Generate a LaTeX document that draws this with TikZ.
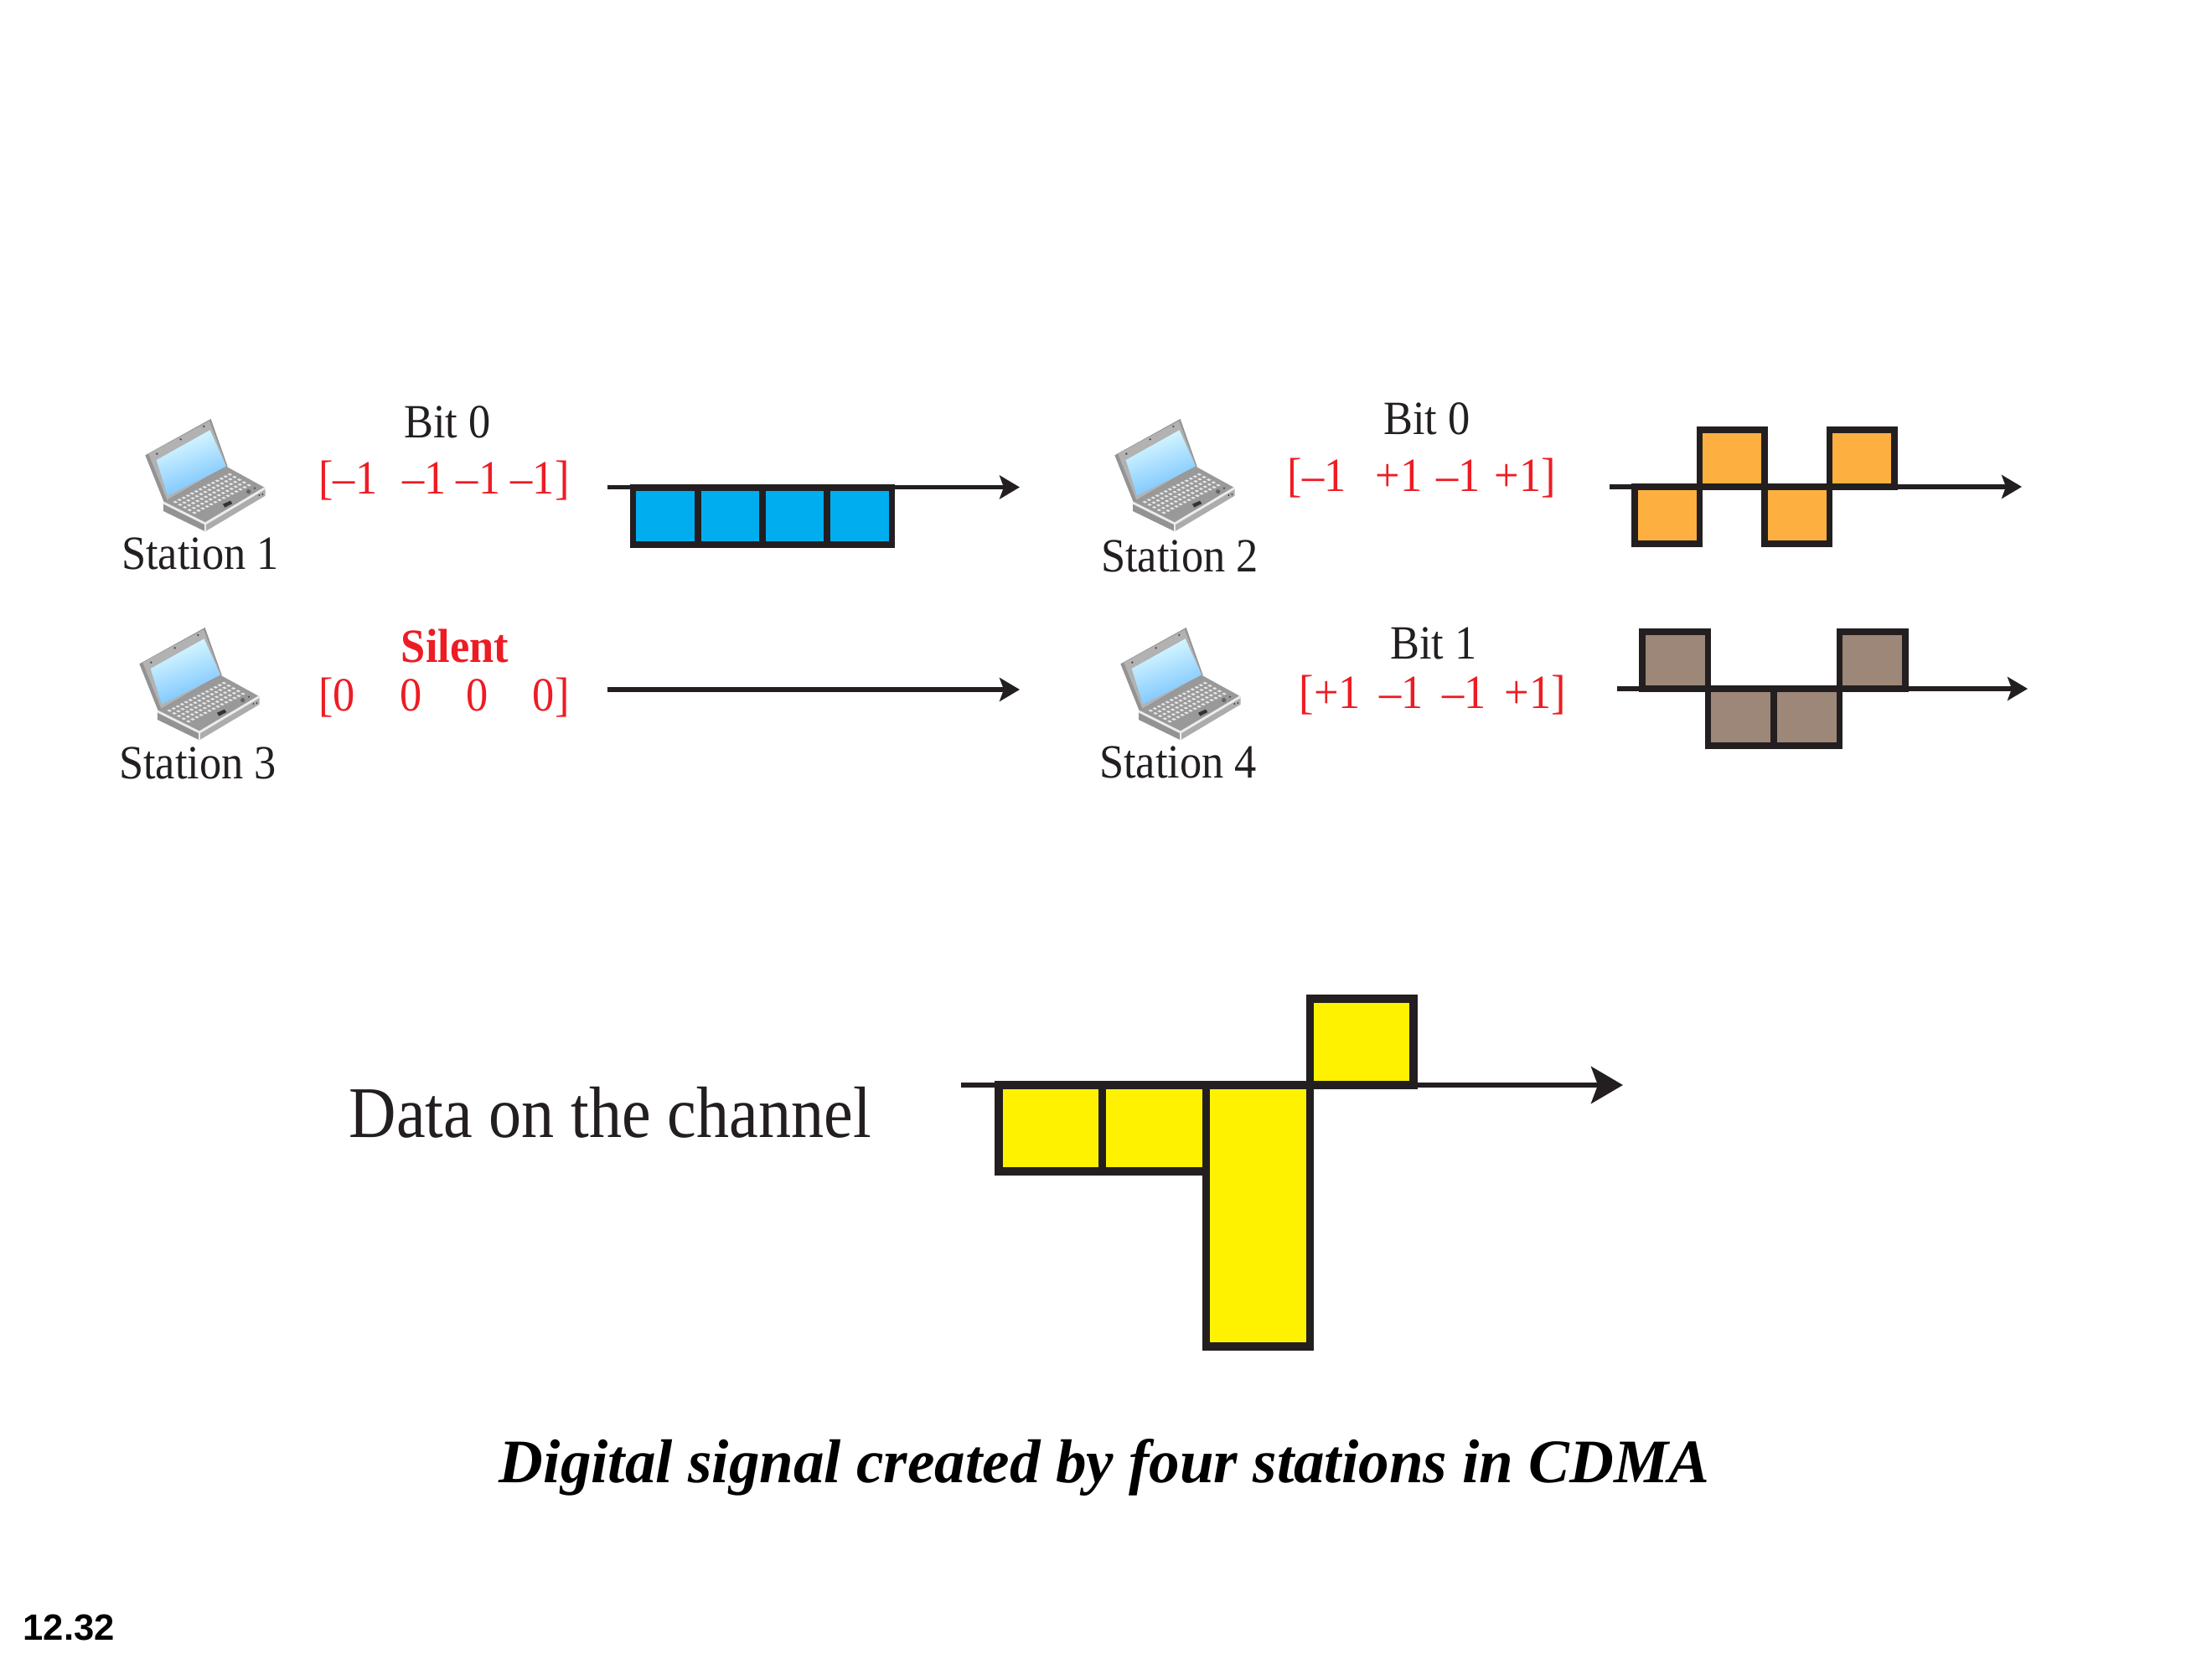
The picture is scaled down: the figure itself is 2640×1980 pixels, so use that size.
\documentclass[tikz,border=0pt]{standalone}
\usepackage{fontspec}
\setmainfont{Liberation Serif}
\newfontfamily\labelfont[FakeStretch=0.92]{Liberation Serif}
\newfontfamily\datafont[FakeStretch=0.90]{Liberation Serif}
\newfontfamily\captionfont[FakeStretch=0.99]{Liberation Serif}
\newfontfamily\pagefont{Liberation Sans}
\usetikzlibrary{arrows.meta}

\definecolor{inkblack}{RGB}{35,31,32}
\definecolor{codered}{RGB}{237,28,36}
\definecolor{cellblue}{RGB}{0,174,239}
\definecolor{cellorange}{RGB}{253,176,64}
\definecolor{cellbrown}{RGB}{157,135,120}
\definecolor{cellyellow}{RGB}{255,242,0}

\newcommand{\codeword}[5]{\makebox[#1][s]{#2\hfill #3\hfill #4\hfill #5}}

\tikzset{
  stationlabel/.style={anchor=base, inner sep=0pt, text=inkblack, font=\labelfont\fontsize{16.2}{18}\selectfont},
  bitlabel/.style={stationlabel},
  codelabel/.style={anchor=base, inner sep=0pt, text=codered, font=\labelfont\fontsize{16.2}{18}\selectfont},
  signalaxis/.style={draw=inkblack, line width=1.45pt, -{Stealth[length=24*0.01cm, width=28*0.01cm, inset=5*0.01cm]}},
  bitcell/.style={draw=inkblack, line width=2.2pt, line join=miter},
  laptop/.pic={
    \begin{scope}[scale=0.3333]
      % lid
      \fill[gray!85] (40,175) -- (275,45) -- (335,215) -- (110,350) -- cycle;
      \fill[gray!60] (52,170) -- (270,52) -- (330,212) -- (118,335) -- cycle;
      \shade[left color=blue!8!cyan!12, right color=cyan!55!blue!55!white, shading angle=20] (80,192) -- (272,85) -- (330,215) -- (120,320) -- cycle;
      \foreach \hx/\hy in {82/170, 250/72, 167/118}
        \fill[black!70] (\hx,\hy) circle (4);
      % base
      \fill[gray!85] (105,345) -- (255,420) -- (255,448) -- (105,375) -- cycle;
      \fill[gray!65] (255,420) -- (470,292) -- (470,320) -- (255,448) -- cycle;
      \fill[gray!80] (105,345) -- (330,215) -- (470,292) -- (255,420) -- cycle;
      \draw[white!85!gray, line width=0.8pt] (105,345) -- (255,420) -- (470,292);
      \draw[white!85!gray, line width=0.8pt] (255,420) -- (255,448);
      % keys
      \foreach \kr in {0,...,4}
        \foreach \kc in {0,...,13}
          \fill[gray!20, shift={(138+\kc*15+\kr*17,342-\kc*7.6+\kr*9.6)}] (1.5,0) -- (9.5,-4) -- (18.5,1) -- (10.5,5) -- cycle;
      \fill[black!80] (318,350) -- (345,338) -- (352,348) -- (325,362) -- cycle;
      \fill[black!60] (410,305) circle (8);
      \fill[black!70] (432,293) circle (4);
      \fill[black!80] (448,318) circle (3) (460,315) circle (3);
    \end{scope}
  }
}

\begin{document}
\begin{tikzpicture}[x=0.01cm, y=-0.01cm]
  \useasboundingbox (0,0) rectangle (2640,1980);

  % stations
  \pic at (160,485) {laptop};
  \pic at (1317,485) {laptop};
  \pic at (153,734) {laptop};
  \pic at (1324,734) {laptop};
  \node[stationlabel] (station1) at (239,680) {Station 1};
  \node[stationlabel] (station2) at (1408,683) {Station 2};
  \node[stationlabel] (station3) at (236,930) {Station 3};
  \node[stationlabel] (station4) at (1406,929) {Station 4};

  % bits and codes
  \node[bitlabel] (bit1) at (534,523) {Bit 0};
  \node[codelabel] (code1) at (530,590) {\codeword{2.99cm}{[–1\hspace{5pt}}{–1}{–1}{–1]}};
  \node[codelabel, font=\labelfont\bfseries\fontsize{16.2}{18}\selectfont] (silent3) at (543,791) {Silent};
  \node[codelabel] (code3) at (530,849) {\codeword{2.99cm}{[0}{0}{0}{0]}};
  \node[bitlabel] (bit2) at (1703,519) {Bit 0};
  \node[codelabel] (code2) at (1697,587) {\codeword{3.2cm}{[–1\hspace{5pt}}{+1}{–1}{+1]}};
  \node[bitlabel] (bit4) at (1711,787) {Bit 1};
  \node[codelabel] (code4) at (1710,846) {\codeword{3.18cm}{[+1}{–1}{–1}{+1]}};

  % signals
  \coordinate (axis1a) at (725,581.5);
  \coordinate (axis1b) at (1217,581.5);
  \coordinate (axis2a) at (1921,581);
  \coordinate (axis2b) at (2413,581);
  \coordinate (axis3a) at (725,823);
  \coordinate (axis3b) at (1217,823);
  \coordinate (axis4a) at (1930,822);
  \coordinate (axis4b) at (2420,822);
  \coordinate (channela) at (1147,1295);
  \coordinate (channelb) at (1937,1295);
  \draw[signalaxis] (axis1a) -- (axis1b);
  \draw[signalaxis] (axis2a) -- (axis2b);
  \draw[signalaxis] (axis3a) -- (axis3b);
  \draw[signalaxis] (axis4a) -- (axis4b);
  \draw[signalaxis, line width=1.8pt, -{Stealth[length=38*0.01cm, width=44*0.01cm, inset=8*0.01cm]}] (channela) -- (channelb);

  \foreach \i in {0,...,3}
    \draw[bitcell, fill=cellblue] (755.5+77.25*\i,582) rectangle ++(77.25,68);
  \foreach \i/\lev in {0/68,1/-68,2/68,3/-68}
    \draw[bitcell, fill=cellorange] (1951+77.5*\i,581) rectangle ++(77.5,\lev);
  \foreach \i/\lev in {0/-68,1/68,2/68,3/-68}
    \draw[bitcell, fill=cellbrown] (1960+78.5*\i,822) rectangle ++(78.5,\lev);
  \foreach \i/\lev in {0/103,1/103,2/312,3/-103}
    \draw[bitcell, line width=2.6pt, fill=cellyellow] (1192+123.75*\i,1295) rectangle ++(123.75,\lev);

  % texts
  \node[anchor=base west, inner sep=0pt, text=inkblack, font=\datafont\fontsize{24.7}{28}\selectfont] (channel) at (416,1357) {Data on the channel};
  \node[anchor=base, inner sep=0pt, font=\captionfont\bfseries\itshape\fontsize{21}{24}\selectfont] (caption) at (1318,1769) {Digital signal created by four stations in CDMA};
  \node[anchor=base west, inner sep=0pt, font=\pagefont\bfseries\fontsize{12.4}{14}\selectfont] (pagenum) at (27,1957) {12.32};
\end{tikzpicture}
\end{document}
